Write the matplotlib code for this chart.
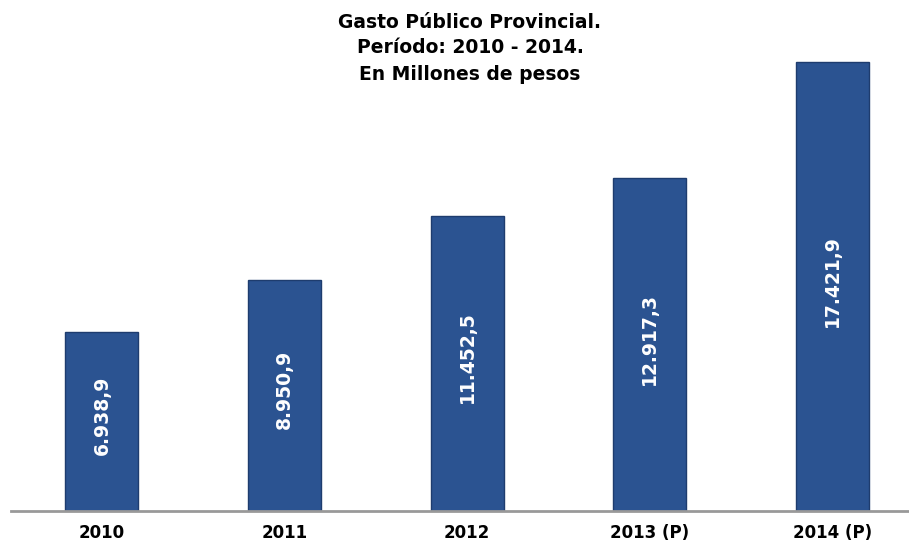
import matplotlib
matplotlib.use("Agg")
import matplotlib.pyplot as plt

categories = ["2010", "2011", "2012", "2013 (P)", "2014 (P)"]
values = [6938.9, 8950.9, 11452.5, 12917.3, 17421.9]
value_labels = ["6.938,9", "8.950,9", "11.452,5", "12.917,3", "17.421,9"]
title_lines = ["Gasto Público Provincial.", "Período: 2010 - 2014.", "En Millones de pesos"]

W, H = 909, 547
fig = plt.figure(figsize=(W / 100, H / 100), dpi=100)
fig.patch.set_facecolor("white")

ax = fig.add_axes([10.5 / W, 36 / H, 1 - 10.5 / W, 471 / H])
x = list(range(len(categories)))
bars = ax.bar(x, values, width=0.4, color="#2B5391", edgecolor="#1E3C6E", linewidth=1.0, zorder=3)

for b, lab in zip(bars, value_labels):
    ax.text(b.get_x() + b.get_width() / 2, b.get_height() / 2 + 230, lab,
            rotation=90, ha="center", va="center", color="white",
            fontsize=13.5, fontweight="heavy", family="DejaVu Sans", zorder=4)

ax.set_xlim(-0.501, 4.42)
ax.set_ylim(0, 18276)
ax.set_xticks(x)
ax.set_xticklabels(categories, fontsize=12, fontweight="bold")
ax.tick_params(axis="x", length=0, pad=9)
ax.set_yticks([])
for s in ["left", "right", "top"]:
    ax.spines[s].set_visible(False)
ax.spines["bottom"].set_color("#999999")
ax.spines["bottom"].set_linewidth(2)
ax.spines["bottom"].set_zorder(5)

for t, yy in zip(title_lines, [22, 48, 74]):
    fig.text(470 / W, 1 - yy / H, t, ha="center", va="center",
             fontsize=13.5, fontweight="bold", color="black")

fig.savefig("out.png", dpi=100, facecolor="white")
